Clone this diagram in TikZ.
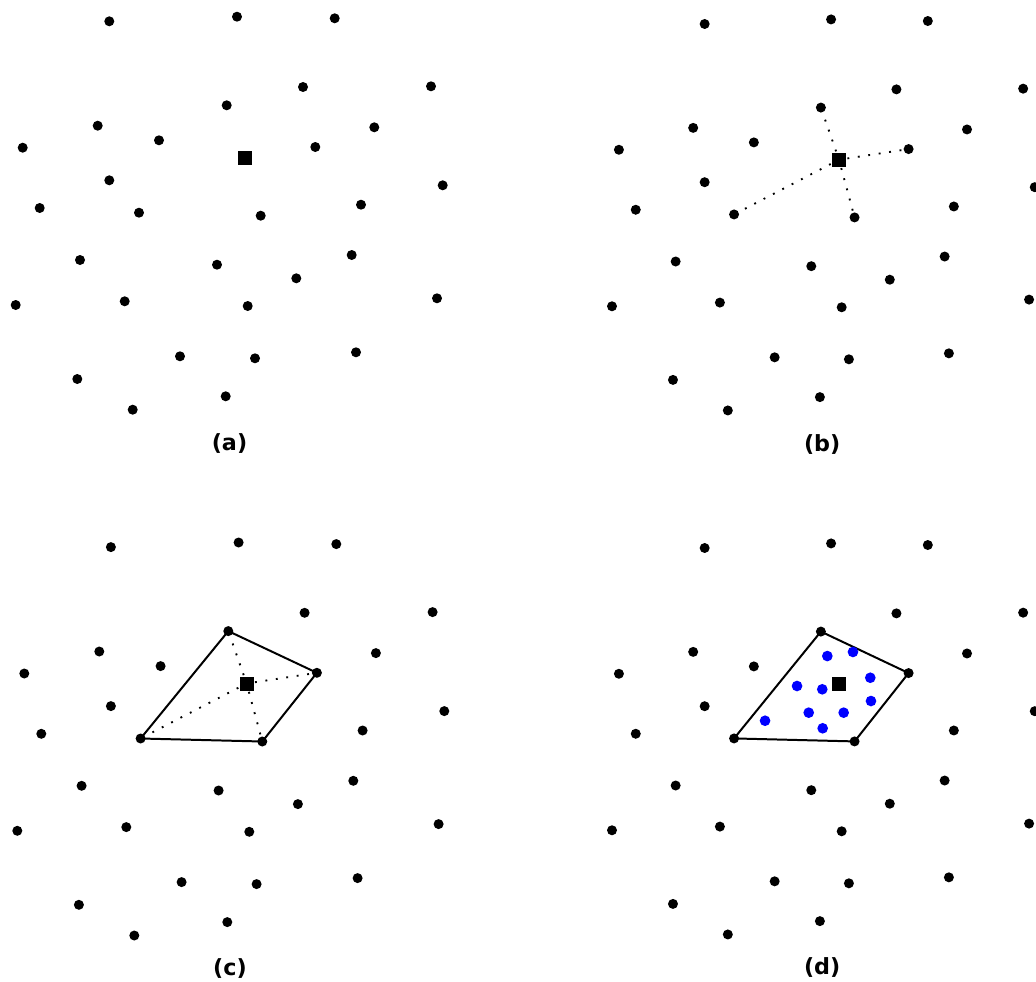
\documentclass[tikz,border=0pt]{standalone}
\usepackage{fontspec}
\usepackage{tikz}
\usetikzlibrary{positioning}
\newfontfamily\panelfont{DejaVu Sans}
\definecolor{sampleblue}{RGB}{0,0,255}
\definecolor{sitedark}{RGB}{0,0,0}

\tikzset{
  site/.style={circle, fill=sitedark, inner sep=0pt, minimum size=0.3cm},
  query/.style={rectangle, fill=sitedark, inner sep=0pt, minimum size=0.42cm},
  sample/.style={circle, fill=sampleblue, inner sep=0pt, minimum size=0.32cm},
  hull/.style={line width=1.7pt, line join=round},
  link/.style={line width=1.6pt, dash pattern=on 1.6pt off 7.4pt, shorten <=1pt},
  tag/.style={font=\panelfont\bfseries\fontsize{19}{23}\selectfont}
}

% site positions, one panel
\newcommand{\sitelist}{109.3/21.3, 237/16.7, 334.7/18.3, 303/87, 431/86.3,
  226.7/105.3, 97.7/125.7, 374.3/127.3, 159/140.3, 22.7/147.7,
  315.3/147, 109.3/180.3, 442.7/185.3, 39.7/208, 139/212.7,
  260.7/215.7, 361/204.7, 80/260, 217/264.7, 351.7/255,
  296.3/278.3, 15.7/305, 124.7/301.3, 247.7/306, 437/298.3,
  180/356.3, 255/358.3, 356/352.3, 77.3/379, 225.7/396.3, 132.7/409.7}
\newcommand{\samplelist}{233.2/129.9, 259.1/125.8, 202.6/160.0, 228.1/163.3,
  276.6/151.7, 277.3/175.1, 214.4/186.8, 249.7/186.8, 228.5/202.5, 170.3/194.9}

\begin{document}
\begin{tikzpicture}[x=0.03cm, y=-0.03cm]
\useasboundingbox (0,0) rectangle (1036,982);

% (a)
\begin{scope}
\foreach \x/\y [count=\i] in \sitelist {\node[site] (a\i) at (\x,\y) {};}
\node[query] (aq) at (245,157.7) {};
\node[tag] (atag) at (229.5,444) {(a)};
\end{scope}

% (b)
\begin{scope}[shift={(596.45,2.8)}, xscale=0.99, yscale=0.995]
\foreach \x/\y [count=\i] in \sitelist {\node[site] (b\i) at (\x,\y) {};}
\node[query] (bq) at (245,157.7) {};
\foreach \j in {6,11,16,15} {\draw[link] (bq) -- (b\j);}
\node[tag] (btag) at (228,444) {(b)};
\end{scope}

% (c)
\begin{scope}[shift={(1.6,525.8)}]
\foreach \x/\y [count=\i] in \sitelist {\node[site] (c\i) at (\x,\y) {};}
\node[query] (cq) at (245,157.7) {};
\draw[hull] (c6.center) -- (c11.center) -- (c16.center) -- (c15.center) -- cycle;
\foreach \j in {6,11,16,15} {\draw[link] (cq) -- (c\j);}
\node[tag] (ctag) at (228.4,443) {(c)};
\end{scope}

% (d)
\begin{scope}[shift={(596.45,526.8)}, xscale=0.99, yscale=0.995]
\foreach \x/\y [count=\i] in \sitelist {\node[site] (d\i) at (\x,\y) {};}
\node[query] (dq) at (245,157.7) {};
\draw[hull] (d6.center) -- (d11.center) -- (d16.center) -- (d15.center) -- cycle;
\foreach \x/\y [count=\i] in \samplelist {\node[sample] (s\i) at (\x,\y) {};}
\node[tag] (dtag) at (228,443) {(d)};
\end{scope}
\end{tikzpicture}
\end{document}
